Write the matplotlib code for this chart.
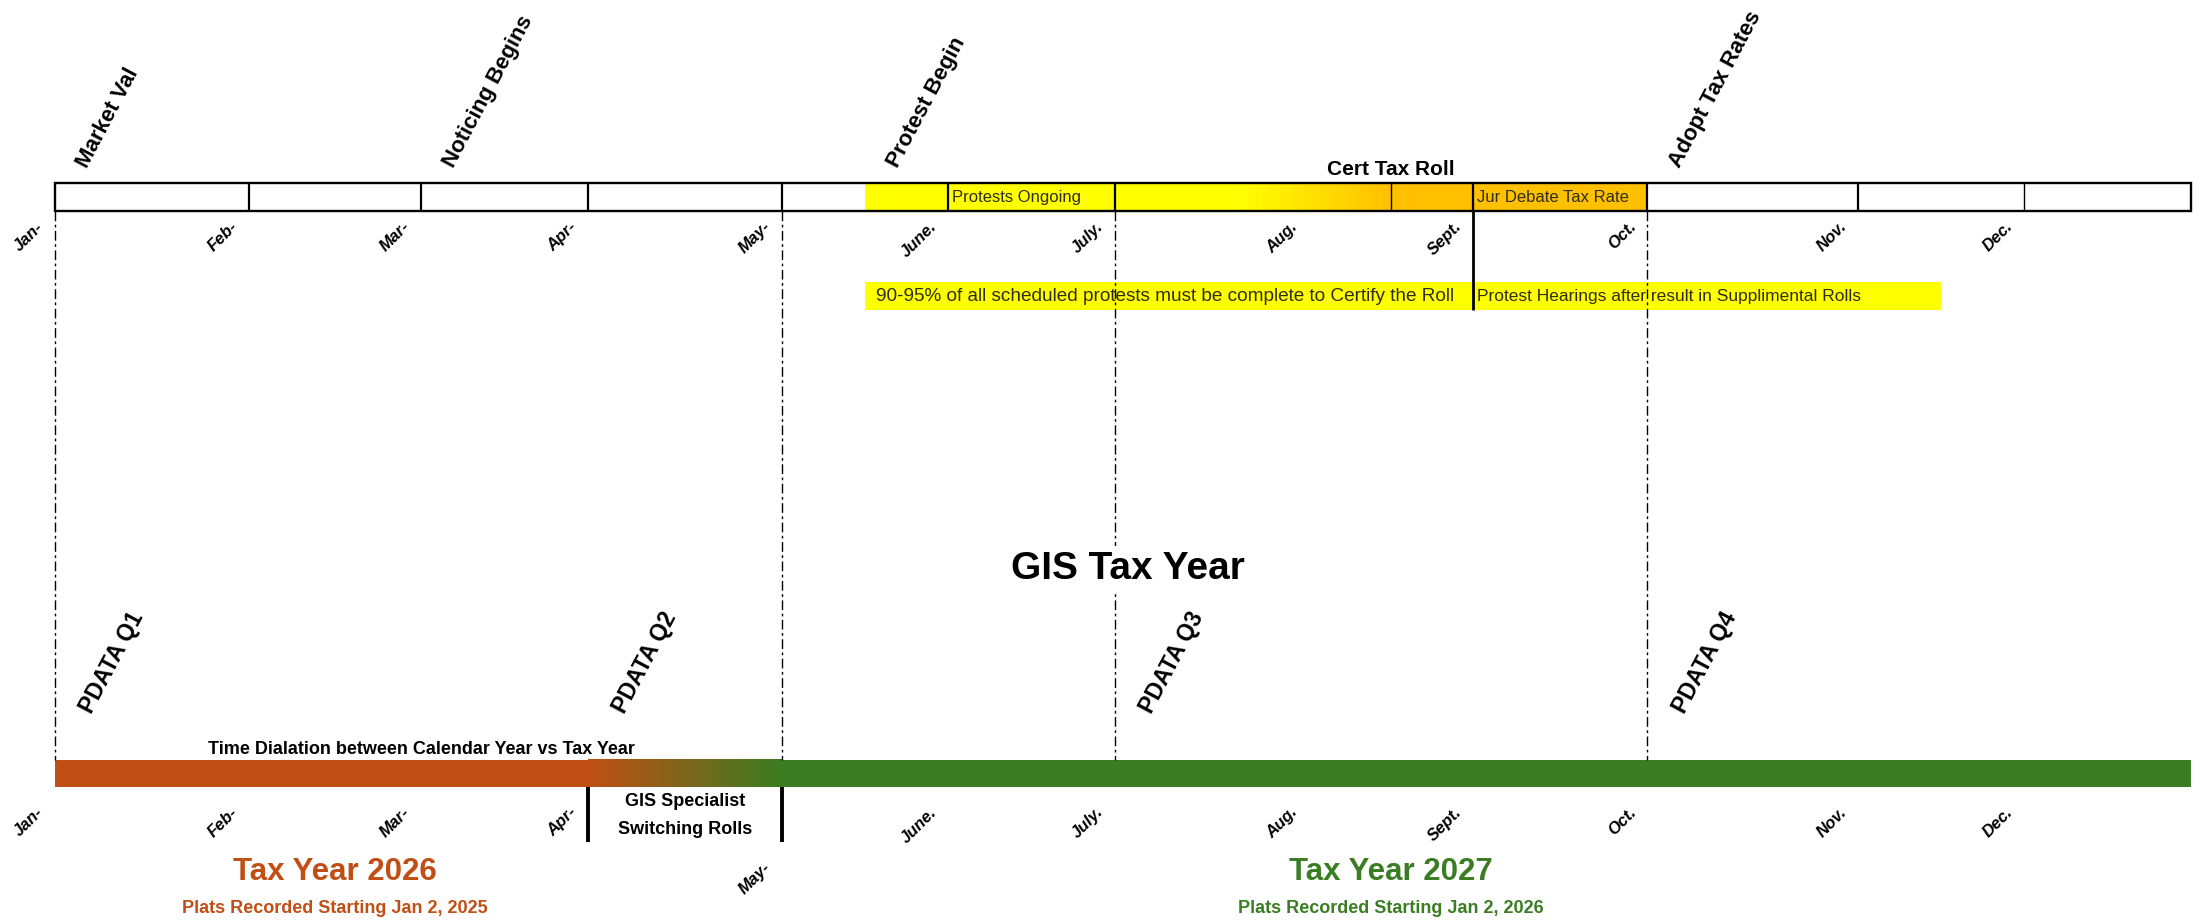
import numpy as np
import matplotlib.pyplot as plt
from matplotlib.colors import LinearSegmentedColormap
from matplotlib.patches import Rectangle

plt.rcParams['font.family'] = ['Liberation Sans', 'DejaVu Sans']

## Sheet columns: left edge of each month (last value = right end of timeline)
months = ['Jan-', 'Feb-', 'Mar-', 'Apr-', 'May-', 'June.', 'July.', 'Aug.', 'Sept.', 'Oct.', 'Nov.', 'Dec.']
month_edges = [39, 177, 300, 418.5, 557, 675, 794, 932, 1049, 1173, 1323, 1441, 1560]

## Top timeline (appraisal calendar)
top_events = ['Market Val', 'Noticing Begins', 'Protest Begin', 'Adopt Tax Rates']
top_event_at = [0, 2, 4.5, 9]
top_dividers_thick = [1, 2, 3, 4, 5, 6, 8, 9, 10]
top_dividers_thin = [7.5, 11]
protest_span = [4.5, 6]          # yellow
cert_span = [6, 7.5]             # yellow -> orange
debate_span = [7.5, 9]           # orange
cell_notes = ['Protests Ongoing', 'Jur Debate Tax Rate']
cell_note_at = [5, 8]
band_span = [4.5, 10.5]
band_split = 8
band_notes = ['90-95% of all scheduled protests must be complete to Certify the Roll',
              'Protest Hearings after result in Supplimental Rolls']
band_note_at = [4.5, 8]
quarter_lines = [0, 4, 6, 9]

## Bottom timeline (GIS tax year)
pdata = ['PDATA Q1', 'PDATA Q2', 'PDATA Q3', 'PDATA Q4']
pdata_at = [0, 3, 6, 9]
switch_span = [3, 4]
tax_years = ['Tax Year 2026', 'Tax Year 2027']
plats = ['Plats Recorded Starting Jan 2, 2025', 'Plats Recorded Starting Jan 2, 2026']
year_at = [1.5, 7.5]

ORANGE = '#C04F15'
GREEN = '#3A7D22'
YELLOW = '#FFFF00'
GOLD = '#FFC000'
NOTE = '#2E2E14'


def mx(m):
    return np.interp(m, np.arange(len(month_edges)), month_edges)


def gradient(x0, x1, y0, y1, colors, stops):
    cmap = LinearSegmentedColormap.from_list('g', list(zip(stops, colors)))
    ax.imshow(np.linspace(0, 1, 256)[None, :], cmap=cmap, aspect='auto',
              extent=[x0, x1, y1, y0], interpolation='bilinear', zorder=1)


fig = plt.figure(figsize=(22.02, 9.21), dpi=100)
ax = fig.add_axes([0, 0, 1, 1])

x_start, x_end = month_edges[0], month_edges[-1]

# ---------------- top bar ----------------
ty0, ty1 = 130, 150
ax.add_patch(Rectangle((mx(protest_span[0]), ty0), mx(protest_span[1]) - mx(protest_span[0]), ty1 - ty0,
                       fc=YELLOW, ec='none', zorder=1))
gradient(mx(cert_span[0]), mx(cert_span[1]), ty0, ty1, [YELLOW, YELLOW, GOLD], [0, 0.45, 1])
ax.add_patch(Rectangle((mx(debate_span[0]), ty0), mx(debate_span[1]) - mx(debate_span[0]), ty1 - ty0,
                       fc=GOLD, ec='none', zorder=1))
ax.vlines([mx(m) for m in top_dividers_thick], ty0, ty1, colors='black', lw=1.6, zorder=3)
ax.vlines([mx(m) for m in top_dividers_thin], ty0, ty1, colors='black', lw=1.0, zorder=3)
ax.add_patch(Rectangle((x_start, ty0), x_end - x_start, ty1 - ty0, fill=False, ec='black', lw=1.7, zorder=4))

for txt, m in zip(cell_notes, cell_note_at):
    ax.text(mx(m) + 3, (ty0 + ty1) / 2 + 0.5, txt, fontsize=12, color=NOTE, ha='left', va='center', zorder=5)

ax.text(mx(7.5), 124.5, 'Cert Tax Roll', fontsize=15, fontweight='bold', ha='center', va='baseline')

for txt, m in zip(top_events, top_event_at):
    ax.text(mx(m) + 13, 122, txt, fontsize=16, fontweight='bold', rotation=62, ha='left', va='bottom')

for lab, e in zip(months, month_edges[:-1]):
    ax.text(e - 6, 156, lab, fontsize=12, fontweight='bold', fontstyle='italic', rotation=45,
            ha='right', va='top')

# note band
by0, by1 = 201, 221
ax.add_patch(Rectangle((mx(band_span[0]), by0), mx(band_span[1]) - mx(band_span[0]), by1 - by0,
                       fc=YELLOW, ec='none', zorder=1))
ax.vlines(mx(band_split), ty1, by1, colors='black', lw=2, zorder=3)
for txt, m, dx, fs in zip(band_notes, band_note_at, [8, 3], [13.7, 12.5]):
    ax.text(mx(m) + dx, (by0 + by1) / 2 + 0.5, txt, fontsize=fs, color=NOTE,
            ha='left', va='center', zorder=5)

# quarter guide lines
bb0, bb1 = 541, 560.5
ax.vlines([mx(m) for m in quarter_lines], ty1, bb0, colors='black', lw=1,
          linestyles=(0, (7, 2.5, 2, 2.5)), zorder=2)

ax.text(803, 405, 'GIS Tax Year', fontsize=28, fontweight='bold', ha='center', va='center', zorder=5,
        bbox=dict(fc='white', ec='none', pad=3))

# ---------------- bottom bar ----------------
for txt, m in zip(pdata, pdata_at):
    ax.text(mx(m) + 15, 511, txt, fontsize=16.5, fontweight='bold', rotation=62, ha='left', va='bottom')

ax.text(mx(2), 537, 'Time Dialation between Calendar Year vs Tax Year', fontsize=13, fontweight='bold',
        ha='center', va='baseline')

ax.add_patch(Rectangle((x_start, bb0), mx(switch_span[0]) - x_start, bb1 - bb0, fc=ORANGE, ec='none', zorder=1))
gradient(mx(switch_span[0]), mx(switch_span[1]), bb0, bb1, [ORANGE, GREEN], [0, 1])
ax.add_patch(Rectangle((mx(switch_span[1]), bb0), x_end - mx(switch_span[1]), bb1 - bb0,
                       fc=GREEN, ec='none', zorder=1))

ax.vlines([mx(m) for m in switch_span], bb1, 600, colors='black', lw=2.8, zorder=3)
sx = (mx(switch_span[0]) + mx(switch_span[1])) / 2
ax.text(sx, 571, 'GIS Specialist', fontsize=13, fontweight='bold', ha='center', va='center')
ax.text(sx, 590.5, 'Switching Rolls', fontsize=13, fontweight='bold', ha='center', va='center')

for lab, e in zip(months, month_edges[:-1]):
    top = 612 if lab == 'May-' else 573
    ax.text(e - 6, top, lab, fontsize=12, fontweight='bold', fontstyle='italic', rotation=45,
            ha='right', va='top')

for ty, pl, m, c in zip(tax_years, plats, year_at, [ORANGE, GREEN]):
    ax.text(mx(m), 627, ty, fontsize=22.5, fontweight='bold', color=c, ha='center', va='baseline')
    ax.text(mx(m), 650, pl, fontsize=13, fontweight='bold', color=c, ha='center', va='baseline')

ax.set_xlim(0, 1568)
ax.set_ylim(656, 0)
ax.axis('off')

plt.savefig('out.png', dpi=100, facecolor='white')
